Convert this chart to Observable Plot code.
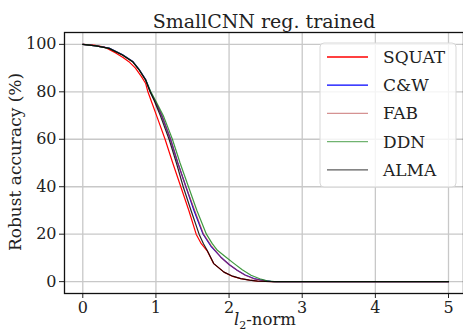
<!DOCTYPE html>
<html>
<head>
<meta charset="utf-8">
<script src="https://cdn.jsdelivr.net/npm/d3@7"></script>
<script src="https://cdn.jsdelivr.net/npm/@observablehq/plot@0.6"></script>
<style>
  html, body { margin: 0; padding: 0; background: #fff; }
  #chart { position: relative; width: 463px; height: 333px; overflow: hidden; }
</style>
</head>
<body>
<div id="chart"></div>
<script>
// ---- data ----
const seriesNames = ["SQUAT", "C&W", "FAB", "DDN", "ALMA"];
const seriesColors = ["#ff0000", "#0000ff", "#b03030", "#108010", "#000000"];
const seriesOpacity = [1, 1, 0.7, 0.8, 0.85];

const squatX = [0, 0.15, 0.3, 0.45, 0.55, 0.63, 0.72, 0.8, 0.86, 0.89, 0.95, 1.02, 1.125, 1.23, 1.34, 1.45, 1.55, 1.62, 1.7, 1.79, 1.93, 2.05, 2.16, 2.28, 2.39, 2.5, 2.6, 5];
const squatY = [100, 99.7, 98.8, 96.4, 94.5, 92.7, 90, 86.5, 83.5, 80, 75, 69, 60, 50, 40, 30, 20, 16, 13, 7.6, 4, 2.2, 1.3, 0.6, 0.25, 0.05, 0, 0];

const cwX = [0, 0.18, 0.36, 0.54, 0.68, 0.77, 0.86, 0.925, 0.99, 1.08, 1.2, 1.3, 1.41, 1.52, 1.645, 1.75, 1.885, 2.0, 2.11, 2.22, 2.34, 2.45, 2.57, 2.65, 5];
const cwY = [100, 99.4, 98.4, 95.7, 92.9, 89.5, 85.2, 80, 76, 70, 60, 50, 40, 30, 20, 15, 10.4, 7.2, 4.8, 2.8, 1.3, 0.6, 0.1, 0, 0];

const fabX = [0, 0.18, 0.36, 0.54, 0.68, 0.77, 0.86, 0.92, 0.99, 1.08, 1.2, 1.3, 1.41, 1.53, 1.65, 1.76, 1.89, 2.0, 2.12, 2.22, 2.33, 2.44, 2.55, 2.64, 5];
const fabY = [100, 99.4, 98.3, 95.6, 92.8, 89.4, 85, 80, 76, 70, 60, 50, 40, 30, 20, 15, 10.2, 7.2, 4.6, 2.7, 1.3, 0.6, 0.15, 0, 0];

const ddnX = [0, 0.18, 0.36, 0.54, 0.68, 0.77, 0.86, 0.93, 1.0, 1.1, 1.225, 1.33, 1.445, 1.56, 1.69, 1.77, 1.84, 1.95, 2.07, 2.18, 2.3, 2.42, 2.52, 2.62, 5];
const ddnY = [100, 99.4, 98.3, 95.6, 92.8, 89.4, 85, 80, 76, 70, 60, 50, 40, 30, 20, 16, 13.2, 10.5, 7.6, 5, 2.7, 1.2, 0.3, 0, 0];

const almaX = [0, 0.18, 0.36, 0.54, 0.68, 0.77, 0.86, 0.92, 0.98, 1.06, 1.18, 1.28, 1.373, 1.48, 1.59, 1.65, 1.7, 1.79, 1.93, 2.05, 2.16, 2.28, 2.39, 2.5, 2.6, 5];
const almaY = [100, 99.4, 98.3, 95.5, 92.7, 89.2, 84.9, 80, 76, 70, 60, 50, 40, 30, 20, 16, 13.2, 7.6, 4, 2.3, 1.3, 0.6, 0.25, 0.05, 0, 0];

const xTicks = [0, 1, 2, 3, 4, 5];
const yTicks = [0, 20, 40, 60, 80, 100];
const titleText = "SmallCNN reg. trained";
const yLabel = "Robust accuracy (%)";

// ---- build table ----
const allX = [squatX, cwX, fabX, ddnX, almaX];
const allY = [squatY, cwY, fabY, ddnY, almaY];
const rows = [];
seriesNames.forEach((name, i) => {
  allX[i].forEach((x, j) => rows.push({series: name, x, y: allY[i][j]}));
});

const serif = "DejaVu Serif";

const plot = Plot.plot({
  width: 463,
  height: 333,
  marginTop: 32,
  marginLeft: 64,
  marginRight: 0,
  marginBottom: 40,
  style: {fontFamily: serif, fontSize: "16px", color: "#222", background: "#fff"},
  x: {domain: [-0.25, 5.205], label: null},
  y: {domain: [-5, 105], label: null},
  marks: [
    Plot.gridX(xTicks, {stroke: "#c8c8c8", strokeOpacity: 1, strokeWidth: 1.3}),
    Plot.gridY(yTicks, {stroke: "#c8c8c8", strokeOpacity: 1, strokeWidth: 1.3}),
    ...seriesNames.map((name, i) =>
      Plot.line(rows.filter(d => d.series === name), {
        x: "x", y: "y",
        stroke: seriesColors[i], strokeOpacity: seriesOpacity[i], strokeWidth: 1.2
      })),
    Plot.axisX(xTicks, {tickSize: 5, tickPadding: 3, fontSize: 16, stroke: "#222"}),
    Plot.axisY(yTicks, {tickSize: 5, tickPadding: 3, fontSize: 16, stroke: "#222"}),
    Plot.frame({stroke: "#111", strokeWidth: 1.3}),
    Plot.text([titleText], {frameAnchor: "top", dy: -5, lineAnchor: "bottom", fontSize: 19, fill: "#222"})
  ]
});

document.getElementById("chart").appendChild(plot);

const svg = d3.select(plot);
// x label with italic l and subscript 2
const xl = svg.append("text")
  .attr("x", 265).attr("y", 325)
  .attr("text-anchor", "middle")
  .attr("font-family", serif).attr("font-size", 16.5).attr("fill", "#222");
xl.append("tspan").attr("font-style", "italic").text("l");
xl.append("tspan").attr("font-size", 11).attr("dy", 4).text("2");
xl.append("tspan").attr("dy", -4).text("-norm");

// y label
svg.append("text")
  .attr("transform", "translate(21,162) rotate(-90)")
  .attr("text-anchor", "middle")
  .attr("font-family", serif).attr("font-size", 17).attr("fill", "#222")
  .text(yLabel);

// legend
const lg = svg.append("g");
lg.append("rect")
  .attr("x", 320).attr("y", 43).attr("width", 136).attr("height", 144)
  .attr("rx", 4).attr("fill", "#fff").attr("fill-opacity", 0.8)
  .attr("stroke", "#d8d8d8").attr("stroke-width", 1);
seriesNames.forEach((name, i) => {
  const cy = 57 + i * 28.2;
  lg.append("line").attr("x1", 327).attr("x2", 368).attr("y1", cy).attr("y2", cy)
    .attr("stroke", seriesColors[i]).attr("stroke-opacity", seriesOpacity[i] * 0.75 + (i < 2 ? 0.25 : 0))
    .attr("stroke-width", 1.3);
  lg.append("text").attr("x", 383).attr("y", cy).attr("dy", "0.35em")
    .attr("text-anchor", "start")
    .attr("font-family", serif).attr("font-size", 17).attr("fill", "#222")
    .text(name);
});
</script>
</body>
</html>
